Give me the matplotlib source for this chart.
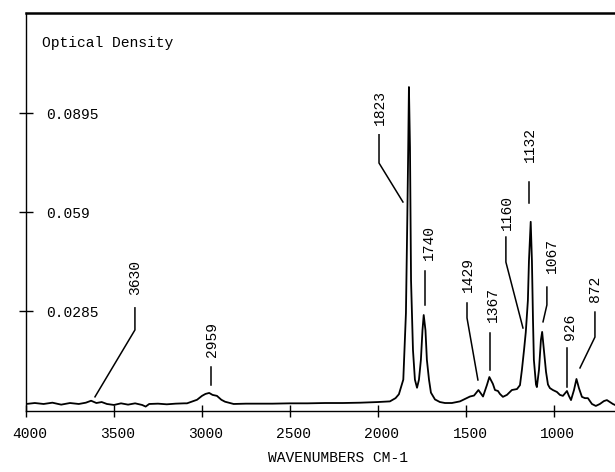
import matplotlib
matplotlib.use("Agg")
import matplotlib.pyplot as plt
import matplotlib.transforms as mtransforms

# ---------------- data ----------------
wavenumbers = [
    4000, 3950, 3900, 3850, 3800, 3750, 3700, 3660, 3630, 3600,
    3570, 3540, 3500, 3460, 3420, 3380, 3340, 3320, 3300, 3250,
    3200, 3150, 3100, 3085, 3028, 3000, 2980, 2959, 2940, 2915,
    2890, 2869, 2820, 2750, 2600, 2500, 2400, 2300, 2200, 2100,
    2050, 2000, 1932, 1900, 1881, 1856, 1841, 1833, 1828, 1824,
    1818, 1812, 1801, 1790, 1778, 1767, 1756, 1747, 1740, 1730,
    1722, 1710, 1699, 1676, 1648, 1619, 1580, 1534, 1477, 1454,
    1429, 1403, 1381, 1367, 1347, 1335, 1318, 1307, 1290, 1267,
    1239, 1210, 1193, 1182, 1170, 1160, 1148, 1142, 1132, 1125,
    1119, 1114, 1102, 1097, 1085, 1074, 1067, 1057, 1045, 1034,
    1023, 1006, 983, 966, 949, 926, 915, 903, 886, 872,
    858, 841, 824, 807, 784, 762, 739, 716, 699, 682,
    665, 653,
]
optical_density = [
    0.0000, 0.0003, 0.0000, 0.0004, -0.0002, 0.0003, 0.0000, 0.0004, 0.0010, 0.0003,
    0.0006, 0.0000, -0.0003, 0.0002, -0.0002, 0.0002, -0.0003, -0.0008, 0.0000, 0.0001,
    -0.0001, 0.0001, 0.0002, 0.0002, 0.0013, 0.0025, 0.0031, 0.0034, 0.0028, 0.0025,
    0.0013, 0.0007, 0.0000, 0.0001, 0.0001, 0.0002, 0.0002, 0.0003, 0.0003, 0.0004,
    0.0005, 0.0006, 0.0008, 0.0018, 0.0030, 0.0075, 0.0280, 0.0580, 0.0790, 0.0976,
    0.0790, 0.0380, 0.0166, 0.0075, 0.0050, 0.0075, 0.0136, 0.0227, 0.0274, 0.0227,
    0.0136, 0.0075, 0.0035, 0.0014, 0.0006, 0.0003, 0.0003, 0.0008, 0.0023, 0.0026,
    0.0043, 0.0023, 0.0058, 0.0083, 0.0062, 0.0043, 0.0040, 0.0031, 0.0022, 0.0028,
    0.0043, 0.0046, 0.0058, 0.0105, 0.0166, 0.0221, 0.0319, 0.0440, 0.0561, 0.0440,
    0.0258, 0.0136, 0.0060, 0.0052, 0.0105, 0.0197, 0.0222, 0.0166, 0.0099, 0.0060,
    0.0049, 0.0043, 0.0037, 0.0028, 0.0025, 0.0040, 0.0025, 0.0012, 0.0043, 0.0077,
    0.0049, 0.0022, 0.0018, 0.0018, 0.0000, -0.0006, 0.0000, 0.0009, 0.0012, 0.0006,
    0.0000, -0.0003,
]
assert len(wavenumbers) == len(optical_density)

x_ticks = [4000, 3500, 3000, 2500, 2000, 1500, 1000]
y_ticks = [0.0285, 0.059, 0.0895]
y_tick_labels = ["0.0285", "0.059", "0.0895"]

peak_labels = ["3630", "2959", "1823", "1740", "1429", "1367",
               "1160", "1132", "1067", "926", "872"]

# ---------------- layout of the peak annotations ----------------
# label: (text x, text bottom, leader x, leader top, knee, end x, end y)
label_layout = {
    "3630": (3381, 0.0336, 3381, 0.0296, 0.0228, 3608, 0.0022),
    "2959": (2943, 0.0145, 2949, 0.0114, 0.0059, None, None),
    "1823": (1989, 0.0859, 1994, 0.0829, 0.0742, 1858, 0.0622),
    "1740": (1710, 0.0444, 1733, 0.0410, 0.0305, None, None),
    "1429": (1489, 0.0345, 1494, 0.0311, 0.0265, 1432, 0.0074),
    "1367": (1347, 0.0253, 1364, 0.0219, 0.0105, None, None),
    "1160": (1267, 0.0536, 1273, 0.0514, 0.0437, 1176, 0.0234),
    "1132": (1136, 0.0745, 1142, 0.0684, 0.0619, None, None),
    "1067": (1011, 0.0403, 1040, 0.0360, 0.0305, 1062, 0.0253),
    "926":  (909, 0.0197, 926, 0.0172, 0.0052, None, None),
    "872":  (767, 0.0314, 767, 0.0283, 0.0206, 852, 0.0111),
}

FONT = ["Liberation Mono", "DejaVu Sans Mono"]
FS = 10.5

fig = plt.figure(figsize=(6.15, 4.72), dpi=100)
ax = fig.add_axes([26 / 615, 1 - 411 / 472, 1 - 26 / 615, (411 - 13) / 472])

ax.plot(wavenumbers, optical_density, color="black", lw=1.3, solid_joinstyle="round")

ax.set_xlim(4000, 653)
ax.set_ylim(-0.00216, 0.1204)

ax.spines["right"].set_visible(False)
ax.spines["top"].set_linewidth(1.8)
ax.spines["left"].set_linewidth(1.0)
ax.spines["bottom"].set_linewidth(1.0)

ax.set_xticks(x_ticks)
ax.set_xticklabels([str(t) for t in x_ticks], family=FONT, fontsize=FS)
ax.tick_params(axis="x", direction="inout", length=8.5, width=1.0, pad=7)
offset = mtransforms.ScaledTranslation(4 / 100, 0, fig.dpi_scale_trans)
for lbl in ax.get_xticklabels():
    lbl.set_transform(lbl.get_transform() + offset)

ax.set_yticks(y_ticks)
ax.set_yticklabels(y_tick_labels, family=FONT, fontsize=FS)
ax.tick_params(axis="y", direction="inout", length=10, width=1.0, pad=-19.4)
for lbl in ax.get_yticklabels():
    lbl.set_horizontalalignment("left")

ax.set_xlabel("WAVENUMBERS CM-1", family=FONT, fontsize=FS)
ax.xaxis.set_label_coords((338 - 26) / 589, (411 - 458) / 398)
ax.xaxis.label.set_verticalalignment("center")

ax.text((42 - 26) / 589, (411 - 43) / 398, "Optical Density", transform=ax.transAxes,
        family=FONT, fontsize=FS, ha="left", va="center")

for lab in peak_labels:
    tx, tb, lx, ltop, knee, ex, ey = label_layout[lab]
    ax.text(tx, tb, lab, rotation=90, ha="center", va="bottom",
            family=FONT, fontsize=FS)
    xs = [lx, lx]
    ys = [ltop, knee]
    if ex is not None:
        xs.append(ex)
        ys.append(ey)
    ax.plot(xs, ys, color="black", lw=1.1)

fig.savefig("out.png", dpi=100)
